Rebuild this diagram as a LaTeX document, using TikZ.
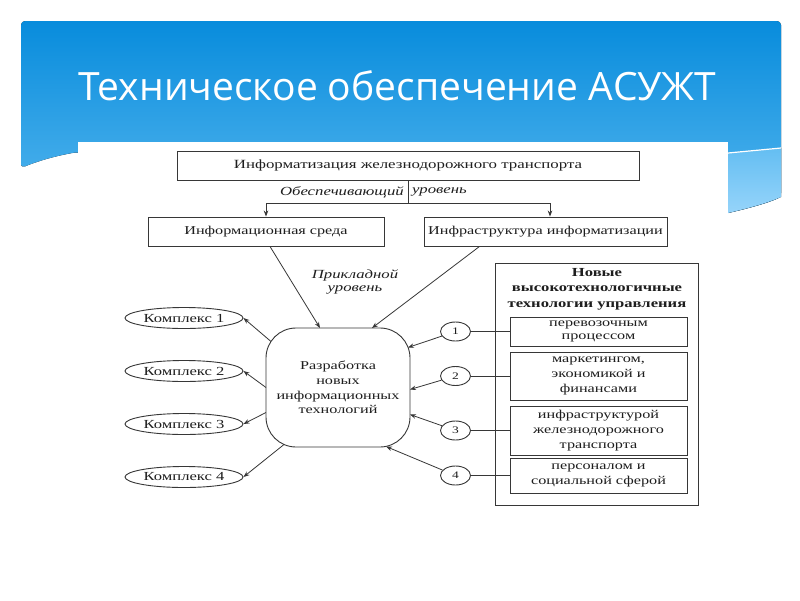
\documentclass[tikz,border=0pt]{standalone}
\usepackage{fontspec}
\usetikzlibrary{shapes.geometric,arrows.meta,calc}
\newfontfamily\diag[FakeStretch=1.35]{Liberation Serif}
\newfontfamily\ttl{Open Sans}
\definecolor{bantop}{RGB}{8,140,220}
\definecolor{banbot}{RGB}{90,185,240}
\definecolor{bandA}{RGB}{100,190,242}
\definecolor{bandB}{RGB}{150,212,250}
\definecolor{linec}{RGB}{55,55,55}
\definecolor{txt}{RGB}{30,30,30}
\tikzset{
  box/.style={draw=linec, line width=0.9pt, inner sep=0pt, text=txt, align=center,
    font={\diag\fontsize{12}{14.8}\selectfont}},
  oval/.style={ellipse, draw=linec, line width=0.9pt, inner sep=0pt, text=txt,
    minimum width=118, minimum height=21, font={\diag\fontsize{12.3}{14}\selectfont}},
  numc/.style={ellipse, draw=linec, line width=0.9pt, inner sep=0pt, text=txt,
    minimum width=30, minimum height=19, font={\diag\fontsize{10}{12}\selectfont}},
  lbl/.style={text=txt, inner sep=0pt, align=center,
    font={\diag\itshape\fontsize{12.4}{13.5}\selectfont}},
  arr/.style={draw=linec, line width=0.8pt, -{Stealth[length=6pt,width=4.5pt]}},
  ln/.style={draw=linec, line width=0.8pt},
}
\begin{document}
\begin{tikzpicture}[x=1pt,y=-1pt]
\useasboundingbox[fill=white] (0,0) rectangle (800,600);
% banner
\fill[top color=bantop, bottom color=banbot, rounded corners=4pt]
  (21,168) -- (21,21) -- (781,21) -- (781,197)
  .. controls (765,204) and (745,209) .. (728,213)
  -- (600,230) -- (300,220) -- (78,152)
  .. controls (55,156) and (38,161) .. (21,168) -- cycle;
\fill[top color=bandA, bottom color=bandB]
  (728,153) -- (781,148) -- (781,197)
  .. controls (765,204) and (745,209) .. (728,213) -- cycle;
\draw[white, line width=1.2pt] (728,153) -- (781,148);
\fill[white] (78,142) rectangle (728,520);
\node[anchor=base west, text=white, inner sep=0pt,
  font={\ttl\fontsize{39}{40}\selectfont}] (title) at (78,100) {Техническое обеспечение АСУЖТ};

% diagram
\node[box, minimum width=462, minimum height=29, font={\diag\fontsize{12.5}{14.8}\selectfont}] (top) at (408,165.5) {Информатизация железнодорожного транспорта};
\node[box, minimum width=236, minimum height=29] (ls) at (266,231.5) {Информационная среда};
\node[box, minimum width=243, minimum height=29] (rs) at (545.5,231.5) {Инфраструктура информатизации};
\coordinate (j) at (408,203);
\draw[ln] (top.south) -- (j);
\draw[arr] (j) -| (ls.north);
\draw[arr] (j) -| ([xshift=4.5pt]rs.north);
\node[lbl, anchor=east] (l1) at (404,192) {Обеспечивающий};
\node[lbl, anchor=west] (l2) at (412,192) {уровень};
\node[lbl] (l3) at (355,282) {Прикладной\\уровень};

\node[box, rounded corners=30pt, minimum width=144, minimum height=119] (c) at (338,387.5)
  {Разработка\\новых\\информационных\\технологий};

\node[oval] (k1) at (184,318) {Комплекс 1};
\node[oval] (k2) at (184,371) {Комплекс 2};
\node[oval] (k3) at (184,424) {Комплекс 3};
\node[oval] (k4) at (184,477) {Комплекс 4};

\draw[arr] ([xshift=4pt]ls.south) -- ([shift={(-18,-59.5)}]c.center);
\draw[arr] ([xshift=-66pt]rs.south) -- ([shift={(34,-59.5)}]c.center);

\draw[arr] ([shift={(-67,-46)}]c.center) -- (k1.east);
\draw[arr] ([shift={(-72,0)}]c.center) -- (k2.east);
\draw[arr] ([shift={(-72,25)}]c.center) -- (k3.east);
\draw[arr] ([shift={(-54,57)}]c.center) -- (k4.east);

% right panel
\node[box, minimum width=203, minimum height=242] (panel) at (596.5,384) {};
\node[text=txt, inner sep=0pt, align=center, font={\diag\bfseries\fontsize{12.3}{15.5}\selectfont}] (ptitle) at (597,289)
  {Новые\\высокотехнологичные\\технологии управления};
\node[box, minimum width=177, minimum height=29, font={\diag\fontsize{12}{12.5}\selectfont}] (b1) at (598.5,331.5) {перевозочным\\процессом};
\node[box, minimum width=177, minimum height=48] (b2) at (598.5,376) {маркетингом,\\экономикой и\\финансами};
\node[box, minimum width=177, minimum height=49] (b3) at (598.5,430.5) {инфраструктурой\\железнодорожного\\транспорта};
\node[box, minimum width=177, minimum height=35] (b4) at (598.5,475.5) {персоналом и\\социальной сферой};

\node[numc] (n1) at (455.5,331.5) {1};
\node[numc] (n2) at (455.5,376) {2};
\node[numc] (n3) at (455.5,430.5) {3};
\node[numc] (n4) at (455.5,475.5) {4};

\draw[ln] (n1) -- (b1);
\draw[ln] (n2) -- (b2);
\draw[ln] (n3) -- (b3);
\draw[ln] (n4) -- (b4);

\draw[arr] (n1) -- ([shift={(70,-40)}]c.center);
\draw[arr] (n2) -- ([shift={(72,2)}]c.center);
\draw[arr] (n3) -- ([shift={(72,27)}]c.center);
\draw[arr] (n4) -- ([shift={(48,59)}]c.center);
\end{tikzpicture}
\end{document}
